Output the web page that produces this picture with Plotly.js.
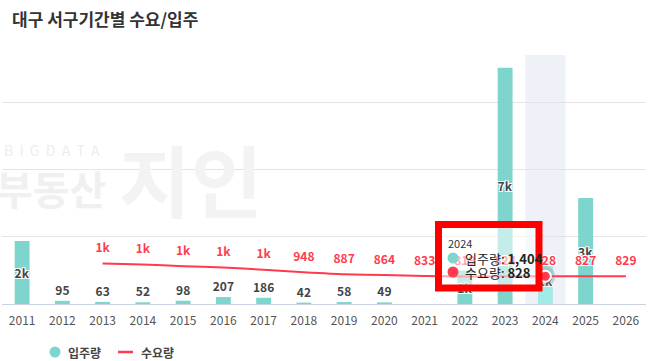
<!DOCTYPE html>
<html>
<head>
<meta charset="utf-8">
<script src="https://cdn.plot.ly/plotly-3.0.1.min.js"></script>
<style>
  html, body { margin: 0; padding: 0; background: #fff; }
  #chart { width: 649px; height: 361px; }
</style>
</head>
<body>
<div id="chart"></div>
<script>
// ---- data ----
const years = ['2011','2012','2013','2014','2015','2016','2017','2018','2019','2020','2021','2022','2023','2024','2025','2026'];
const supply = [1880, 95, 63, 52, 98, 207, 186, 42, 58, 49, null, 1000, 7050, 1404, 3160, null];
const demand = [null, null, 1210, 1180, 1130, 1090, 1020, 948, 887, 864, 833, 819, 824, 828, 827, 829];
const supplyName = '입주량';
const demandName = '수요량';
const chartTitle = '대구 서구기간별 수요/입주';
const hoverYear = '2024';

// ---- helpers ----
const TEAL = '#7dd5ce';
const TEAL_HOVER = '#a3ebe6';
const RED = '#ff3b4e';
const FONT = '"Noto Sans CJK KR", "Noto Sans", sans-serif';
function fmt(v) {
  if (v === null || v === undefined) return '';
  if (v >= 1000) return Math.round(v / 1000) + 'k';
  return String(v);
}
function comma(v) { return v.toLocaleString('en-US'); }
const hIdx = years.indexOf(hoverYear);

// plot area geometry (pixels) for overlay placement
const L = 2, R = 3, T = 55, B = 57, W = 649, H = 361;
const PW = W - L - R, PH = H - T - B;
const px = x => (x - L) / PW;
const py = y => (H - B - y) / PH;

const halo = '-1px -1px 0 #fff, 1px -1px 0 #fff, -1px 1px 0 #fff, 1px 1px 0 #fff';

const barTrace = {
  type: 'bar',
  x: years,
  y: supply,
  name: supplyName,
  showlegend: false,
  width: 0.37,
  marker: { color: years.map(y => y === hoverYear ? TEAL_HOVER : TEAL) },
  text: supply.map(fmt),
  textposition: supply.map(v => (v !== null && v >= 1000) ? 'inside' : 'outside'),
  insidetextanchor: 'middle',
  constraintext: 'none',
  cliponaxis: false,
  textfont: { family: FONT, size: 12, color: '#444', weight: 'bold', shadow: halo },
  hoverinfo: 'skip'
};

const demandTrace = {
  type: 'scatter',
  mode: 'lines+markers+text',
  x: years,
  y: demand,
  name: demandName,
  showlegend: false,
  line: { color: RED, width: 2, shape: 'spline', smoothing: 0.6 },
  marker: { size: 12, color: 'rgba(0,0,0,0)' },
  text: demand.map(fmt),
  textposition: 'top center',
  textfont: { family: FONT, size: 12, color: RED, weight: 'bold', shadow: halo },
  cliponaxis: false,
  connectgaps: false,
  hoverinfo: 'skip'
};

const hoverHalo = {
  type: 'scatter', mode: 'markers',
  x: [hoverYear], y: [demand[hIdx]],
  showlegend: false,
  marker: { size: 20, color: 'rgba(140,140,140,0.35)' },
  hoverinfo: 'skip'
};
const hoverDot = {
  type: 'scatter', mode: 'markers',
  x: [hoverYear], y: [demand[hIdx]],
  showlegend: false,
  marker: { size: 11, color: RED, line: { color: '#fff', width: 2 } },
  hoverinfo: 'skip'
};

const legendFont = { family: FONT, size: 12, color: '#444', weight: 'bold' };
const annotations = [
  // watermark
  { xref: 'paper', yref: 'paper', x: px(2), y: py(150), xanchor: 'left', yanchor: 'middle',
    text: 'B  I  G  D  A  T  A', showarrow: false,
    font: { family: FONT, size: 14, color: '#ededed' } },
  { xref: 'paper', yref: 'paper', x: px(-6), y: py(188), xanchor: 'left', yanchor: 'middle',
    text: '<b>부동산</b>', showarrow: false,
    font: { family: FONT, size: 40, color: '#f0f0f0' } },
  { xref: 'paper', yref: 'paper', x: px(191), y: py(178), xanchor: 'center', yanchor: 'middle',
    text: '<b>지인</b>', showarrow: false,
    font: { family: FONT, size: 78, color: '#f3f3f3' } },
  // tooltip contents
  { xref: 'paper', yref: 'paper', x: px(446), y: py(242.5), xanchor: 'left', yanchor: 'middle',
    text: hoverYear, showarrow: false,
    font: { family: FONT, size: 11, color: '#333' } },
  { xref: 'paper', yref: 'paper', x: px(463), y: py(258), xanchor: 'left', yanchor: 'middle',
    text: supplyName + ': <b>' + comma(supply[hIdx]) + '</b>', showarrow: false,
    font: { family: FONT, size: 13, color: '#222' } },
  { xref: 'paper', yref: 'paper', x: px(463), y: py(272), xanchor: 'left', yanchor: 'middle',
    text: demandName + ': <b>' + comma(demand[hIdx]) + '</b>', showarrow: false,
    font: { family: FONT, size: 13, color: '#222' } },
  // legend texts
  { xref: 'paper', yref: 'paper', x: px(66), y: py(352), xanchor: 'left', yanchor: 'middle',
    text: supplyName, showarrow: false, font: legendFont },
  { xref: 'paper', yref: 'paper', x: px(139), y: py(352), xanchor: 'left', yanchor: 'middle',
    text: demandName, showarrow: false, font: legendFont }
];

function circle(cx, cy, r, color) {
  return { type: 'circle', layer: 'above', xref: 'paper', yref: 'paper',
    x0: px(cx - r), x1: px(cx + r), y0: py(cy + r), y1: py(cy - r),
    fillcolor: color, line: { width: 0 } };
}

const shapes = [
  // hover band
  { type: 'rect', layer: 'below', xref: 'x', yref: 'paper',
    x0: hIdx - 0.5, x1: hIdx + 0.5, y0: 0, y1: 1,
    fillcolor: '#eef2f8', line: { width: 0 } },
  // tooltip box
  { type: 'rect', layer: 'above', xref: 'paper', yref: 'paper',
    x0: px(440), x1: px(536), y0: py(286), y1: py(226),
    fillcolor: 'rgba(255,255,255,0.55)', line: { width: 0 } },
  // tooltip symbols
  circle(453, 258, 5.5, TEAL),
  circle(453, 272, 5.5, RED),
  // red highlight frame
  { type: 'rect', layer: 'above', xref: 'paper', yref: 'paper',
    x0: px(438.5), x1: px(539), y0: py(288), y1: py(224.5),
    fillcolor: 'rgba(0,0,0,0)', line: { color: '#ff0000', width: 7 } },
  // legend symbols
  circle(55, 352, 5.5, TEAL),
  { type: 'line', layer: 'above', xref: 'paper', yref: 'paper',
    x0: px(118), x1: px(133), y0: py(352), y1: py(352),
    line: { color: RED, width: 2.5 } }
];

const layout = {
  width: W, height: H,
  margin: { l: L, r: R, t: T, b: B, pad: 0, autoexpand: false },
  paper_bgcolor: '#fff',
  plot_bgcolor: 'rgba(0,0,0,0)',
  font: { family: FONT, color: '#444' },
  title: {
    text: chartTitle,
    x: 12 / W, xref: 'container', xanchor: 'left',
    y: 1 - 20 / H, yref: 'container', yanchor: 'middle',
    font: { family: FONT, size: 17, color: '#333', weight: 'bold' }
  },
  xaxis: {
    type: 'category',
    range: [-0.5, years.length - 0.5],
    automargin: false,
    showgrid: false,
    showline: true, linecolor: '#c9d3e4', linewidth: 1,
    ticks: '', tickfont: { family: FONT, size: 12, color: '#555' },
    ticklabelstandoff: 6,
    fixedrange: true
  },
  yaxis: {
    automargin: false,
    range: [0, 7430],
    dtick: 2000, tick0: 0,
    showticklabels: false,
    showgrid: true, gridcolor: '#e4e4e4', gridwidth: 1,
    zeroline: false, fixedrange: true
  },
  bargap: 0.6,
  showlegend: false,
  annotations: annotations,
  shapes: shapes
};

Plotly.newPlot('chart', [barTrace, demandTrace, hoverHalo, hoverDot], layout, { displayModeBar: false, staticPlot: true });
</script>
</body>
</html>
